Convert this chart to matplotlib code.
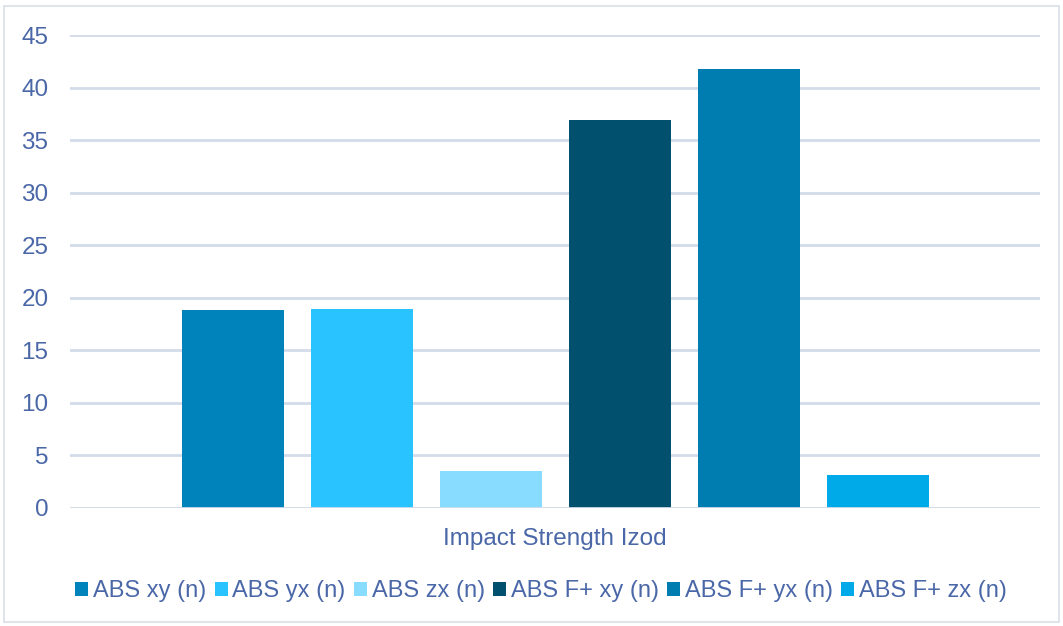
import matplotlib
matplotlib.use("Agg")
import matplotlib.pyplot as plt
from matplotlib.patches import Rectangle, Patch

series = ["ABS xy (n)", "ABS yx (n)", "ABS zx (n)", "ABS F+ xy (n)", "ABS F+ yx (n)", "ABS F+ zx (n)"]
values = [18.8, 18.9, 3.5, 36.9, 41.8, 3.15]
colors = ["#0083BB", "#29C3FF", "#88DCFF", "#00506E", "#007DB0", "#00A9E8"]
category = "Impact Strength Izod"
yticks = [0, 5, 10, 15, 20, 25, 30, 35, 40, 45]

text_color = "#4A67A8"
grid_color = "#D4DCEA"

plt.rcParams['font.family'] = ['Liberation Sans', 'DejaVu Sans']

fig = plt.figure(figsize=(10.63, 6.26), dpi=100)
ax = fig.add_axes([70/1063, 1-508/626, 970/1063, (508-35)/626])

n = len(series)
step = 129/970
width = 102/970
for i, (s, v, c) in enumerate(zip(series, values, colors)):
    ax.bar((i - (n-1)/2) * step, v, width=width, color=c, label=s, zorder=3)

ax.set_xlim(-0.5, 0.5)
ax.set_ylim(0, 45)
ax.set_yticks(yticks)
ax.set_xticks([])
ax.yaxis.grid(True, color=grid_color, linewidth=2.0, zorder=0)
for sp in ax.spines.values():
    sp.set_visible(False)
ax.axhline(0, color=grid_color, linewidth=2.0, zorder=4)
ax.tick_params(axis='y', length=0, pad=15.5, labelsize=17.5, labelcolor=text_color)

fig.text(555/1063, 1-539/626, category, ha='center', va='center', fontsize=17.5, color=text_color)

handles = [Patch(facecolor=c, edgecolor='none') for c in colors]
fig.legend(handles, series, loc='center', bbox_to_anchor=(541/1063, 1-591/626), ncol=6,
           frameon=False, fontsize=17, labelcolor=text_color, handlelength=0.55, handleheight=0.55,
           handletextpad=0.2, columnspacing=0.35, borderaxespad=0)

fig.patches.append(Rectangle((4/1063, 4/626), 1-8/1063, 1-10/626, transform=fig.transFigure,
                             fill=False, edgecolor="#D9DFE8", linewidth=1.2))

fig.savefig("out.png", dpi=100, facecolor="white")
